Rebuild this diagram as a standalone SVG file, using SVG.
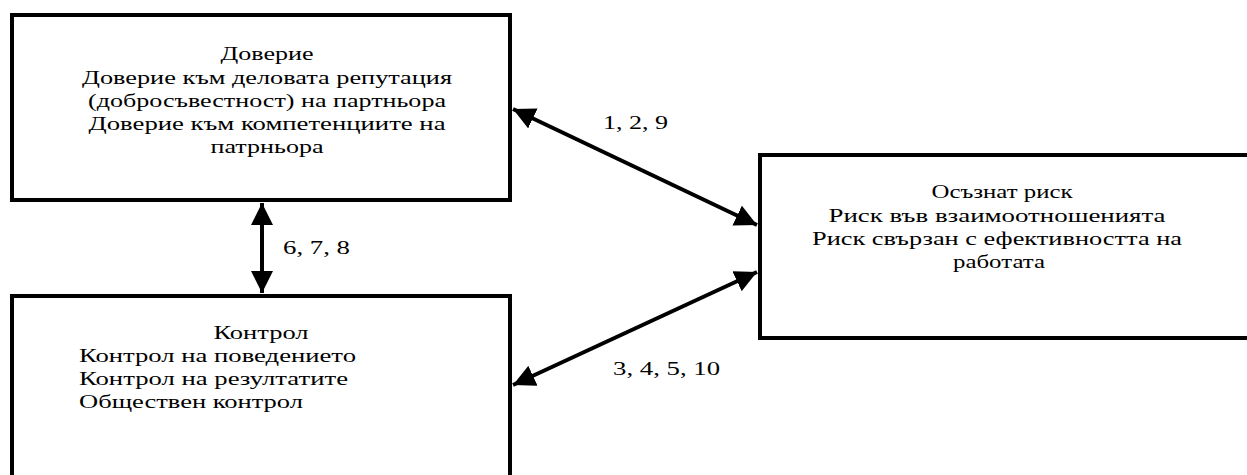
<svg xmlns="http://www.w3.org/2000/svg" width="1247" height="475" viewBox="0 0 1247 475">
<defs>
<style>
.box{fill:#fff;stroke:#000;stroke-width:4}
text{font-family:'Liberation Serif','Times New Roman','DejaVu Serif',serif;font-size:18px;fill:#000}
.c{text-anchor:middle}
.con{stroke:#000;stroke-width:4;fill:none;marker-start:url(#ah);marker-end:url(#ah)}
</style>
<marker id="ah" viewBox="0 0 10 10" refX="10" refY="5" markerWidth="5.5" markerHeight="5.5" orient="auto-start-reverse" markerUnits="strokeWidth">
<path d="M0,0 L10,5 L0,10 Z" fill="#000"/>
</marker>
</defs>
<rect width="1247" height="475" fill="#fff"/>
<g id="node-trust">
<rect class="box" x="12" y="15" width="498" height="185"/>
<text class="c" x="267" y="60" textLength="93" lengthAdjust="spacingAndGlyphs">Доверие</text>
<text class="c" x="267" y="84" textLength="370" lengthAdjust="spacingAndGlyphs">Доверие към деловата репутация</text>
<text class="c" x="267" y="107" textLength="358" lengthAdjust="spacingAndGlyphs">(добросъвестност) на партньора</text>
<text class="c" x="267" y="130" textLength="357" lengthAdjust="spacingAndGlyphs">Доверие към компетенциите на</text>
<text class="c" x="267" y="153" textLength="113" lengthAdjust="spacingAndGlyphs">патрньора</text>
</g>
<g id="node-control">
<rect class="box" x="12" y="296" width="498" height="200"/>
<text class="c" x="261" y="339" textLength="95" lengthAdjust="spacingAndGlyphs">Контрол</text>
<text x="79" y="362" textLength="277" lengthAdjust="spacingAndGlyphs">Контрол на поведението</text>
<text x="79" y="385" textLength="269" lengthAdjust="spacingAndGlyphs">Контрол на резултатите</text>
<text x="79" y="408" textLength="224" lengthAdjust="spacingAndGlyphs">Обществен контрол</text>
</g>
<g id="node-risk">
<rect class="box" x="760" y="155" width="500" height="183"/>
<text class="c" x="1002" y="198" textLength="141" lengthAdjust="spacingAndGlyphs">Осъзнат риск</text>
<text class="c" x="997" y="222" textLength="337" lengthAdjust="spacingAndGlyphs">Риск във взаимоотношенията</text>
<text class="c" x="997" y="245" textLength="370" lengthAdjust="spacingAndGlyphs">Риск свързан с ефективността на</text>
<text class="c" x="999" y="268" textLength="92" lengthAdjust="spacingAndGlyphs">работата</text>
</g>
<g id="connectors">
<line class="con" x1="262" y1="203" x2="262" y2="293"/>
<line class="con" x1="513" y1="109" x2="757" y2="225"/>
<line class="con" x1="757" y1="272" x2="513" y2="385"/>
<text x="603" y="129" textLength="65" lengthAdjust="spacingAndGlyphs">1, 2, 9</text>
<text x="283" y="254" textLength="67" lengthAdjust="spacingAndGlyphs">6, 7, 8</text>
<text x="613" y="375" textLength="107" lengthAdjust="spacingAndGlyphs">3, 4, 5, 10</text>
</g>
</svg>
